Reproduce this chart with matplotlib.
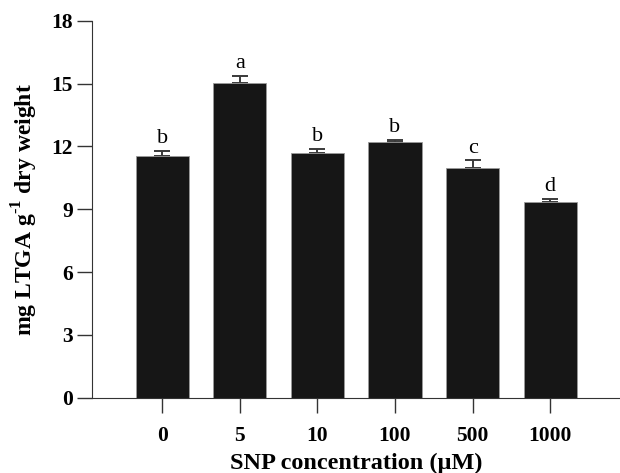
import matplotlib
matplotlib.use("Agg")
import matplotlib.pyplot as plt
import numpy as np

categories = ["0", "5", "10", "100", "500", "1000"]
values = [11.55, 15.01, 11.68, 12.19, 10.95, 9.36]
errors = [0.24, 0.36, 0.21, 0.13, 0.40, 0.14]
letters = ["b", "a", "b", "b", "c", "d"]
yticks = [0, 3, 6, 9, 12, 15, 18]

plt.rcParams['font.family'] = ['Liberation Serif', 'DejaVu Serif']
plt.rcParams['mathtext.fontset'] = 'custom'
plt.rcParams['mathtext.rm'] = 'Liberation Serif:bold'
plt.rcParams['mathtext.bf'] = 'Liberation Serif:bold'

fig = plt.figure(figsize=(6.2, 4.73), dpi=100)
ax = fig.add_axes([0.149, 0.159, 0.851, 0.797])

x = np.arange(len(categories))
ax.bar(x, values, width=0.685, color='#161616', edgecolor='#9a9a9a', linewidth=0.6, zorder=2)
ax.errorbar(x, values, yerr=[np.zeros(len(errors)), errors], fmt='none',
            ecolor='#3a3a3a', elinewidth=1.4, capsize=6, capthick=1.4, zorder=1)
for xi, v, e, l in zip(x, values, errors, letters):
    ax.text(xi, v + e + 0.12, l, ha='center', va='bottom', fontsize=16)

ax.set_xlim(-0.9, 5.9)
ax.set_ylim(0, 18)
ax.set_yticks(yticks)
ax.set_xticks(x)
ax.set_xticklabels(categories)
for lab in ax.get_xticklabels() + ax.get_yticklabels():
    lab.set_fontweight('bold')
    lab.set_fontsize(15.5)
ax.tick_params(axis='both', direction='out', length=11, width=1.0, color='#333333')
ax.tick_params(axis='x', pad=9)
ax.tick_params(axis='y', pad=3)
ax.spines['top'].set_visible(False)
ax.spines['right'].set_visible(False)
ax.spines['left'].set_color('#333333')
ax.spines['bottom'].set_color('#333333')

ax.set_xlabel('SNP concentration (μM)', fontsize=17.5, fontweight='bold', labelpad=5)
ax.set_ylabel(r'mg LTGA g$^{\text{-}1}$ dry weight', fontsize=17, fontweight='bold', labelpad=8)

fig.savefig('out.png', dpi=100)
